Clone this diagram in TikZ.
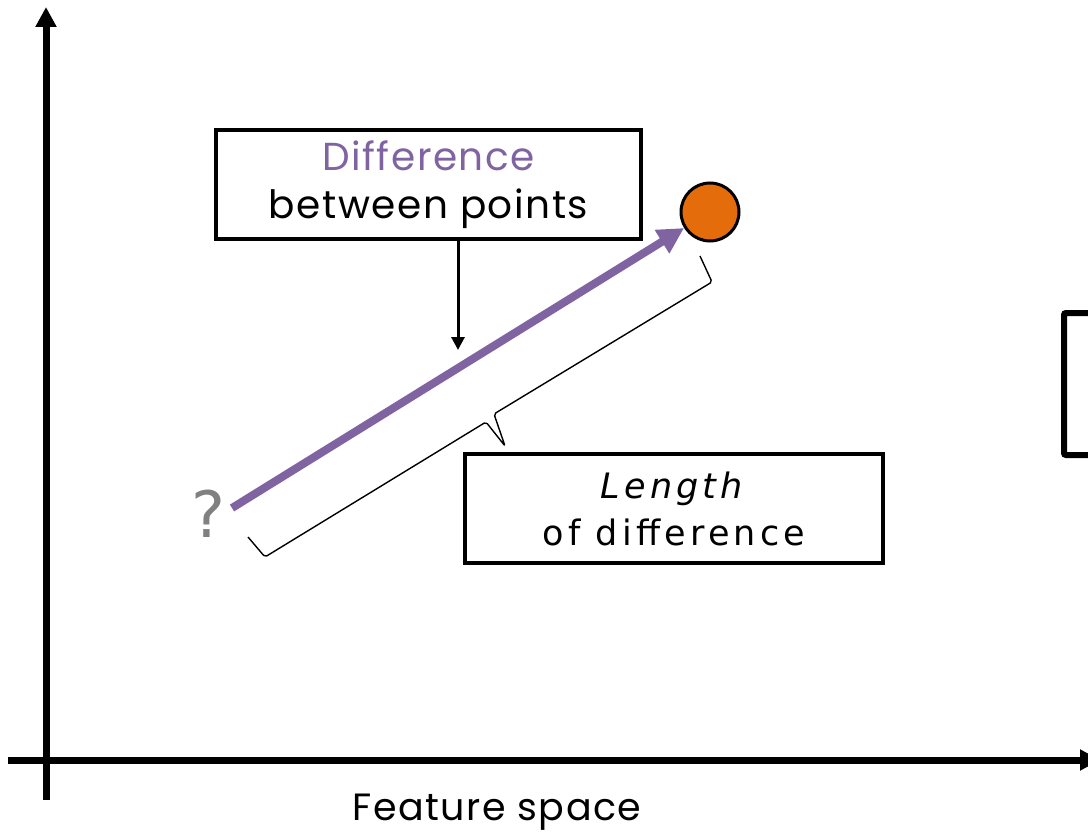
\documentclass[tikz,border=0pt]{standalone}
\usepackage{fontspec}
\setmainfont{DejaVu Sans}
\newfontfamily\boxfont[LetterSpace=4]{Poppins}
\newfontfamily\lenfont[LetterSpace=12]{DejaVu Sans}
\usetikzlibrary{arrows.meta,calc}
\definecolor{vio}{HTML}{8064A2}
\definecolor{org}{HTML}{E46C0A}
\definecolor{qgray}{HTML}{808080}
\tikzset{
  axis/.style={line width=7pt,-{Triangle[length=20pt,width=20pt]}},
  txtbox/.style={draw,line width=3.5pt,fill=white,align=center,inner sep=0pt},
  bracestyle/.style={line width=1.4pt,line join=round,rounded corners=2pt},
}
\begin{document}
\begin{tikzpicture}[x=1pt,y=-1pt]
\useasboundingbox (0,0) rectangle (1088,832);
% axes
\coordinate (ybot) at (46,800);
\coordinate (ytop) at (46,7);
\coordinate (xl) at (8,760);
\coordinate (xr) at (1100,760);
\draw[axis] (ybot) -- (ytop);
\draw[axis] (xl) -- (xr);
\node[anchor=base,font=\boxfont\fontsize{38}{44}\selectfont] (xlab) at (497,820) {Feature space};
% right cut-off box
\node[draw,line width=6pt,rounded corners=2pt,minimum width=120pt,minimum height=142pt,anchor=north west,inner sep=0pt] (rb) at (1061,310) {};
% orange point
\node[circle,draw,line width=3pt,fill=org,minimum size=58pt,inner sep=0pt] (dot) at (710,212) {};
% question mark
\node[text=qgray,inner sep=0pt,font=\fontsize{64}{70}\selectfont] (q) at (208,514) {?};
\coordinate (qs) at (232,508);
% brace
\coordinate (ba) at (248,537);
\coordinate (bc1) at (265,557);
\coordinate (bm1) at (486,422);
\coordinate (bt) at (505,446);
\coordinate (bm2) at (494,414);
\coordinate (bc2) at (712,282);
\coordinate (bb) at (700,256);
\draw[bracestyle] (ba) -- (bc1) -- (bm1) -- (bt) -- (bm2) -- (bc2) -- (bb);
% purple difference arrow
\draw[vio,line width=8pt,-{Triangle[length=26pt,width=26pt]}] (qs) -- (dot);
% boxes
\node[txtbox,minimum width=425pt,minimum height=109pt,font=\boxfont\fontsize{39}{48}\selectfont] (b1) at (428.5,184.5)
  {\textcolor{vio}{Difference}\\between points};
\node[txtbox,minimum width=418pt,minimum height=109pt,font=\lenfont\fontsize{35}{47}\selectfont] (b2) at (674,508.5)
  {\textit{Length}\\of difference};
% pointer
\coordinate (pt) at (458,350);
\draw[line width=3pt,-{Triangle[length=13pt,width=13pt]}] (pt |- b1.south) -- (pt);
\end{tikzpicture}
\end{document}
